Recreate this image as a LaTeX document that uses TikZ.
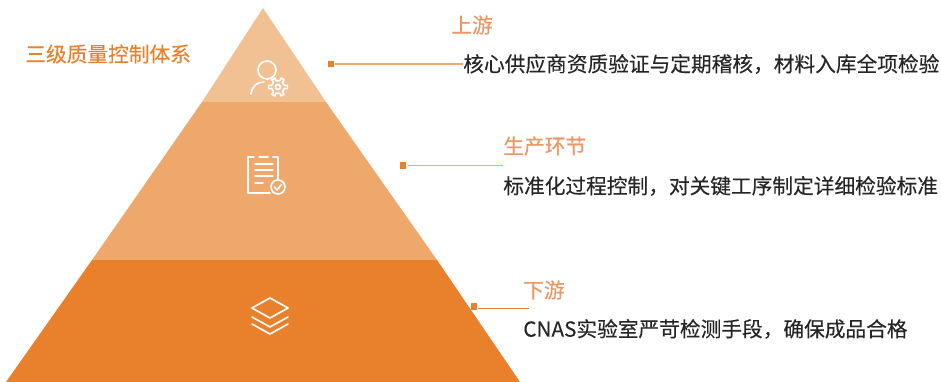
\documentclass[tikz,border=0pt]{standalone}
\usepackage{fontspec}
\setmainfont{Noto Sans CJK SC}
\newfontfamily\bodyfont[FakeBold=0.25]{Noto Sans CJK SC}
\newfontfamily\headfont[FakeBold=0.15]{Noto Sans CJK SC}
\usepackage{tikz}
\usetikzlibrary{positioning}
\definecolor{layerA}{HTML}{F2C193}
\definecolor{layerB}{HTML}{EEA86C}
\definecolor{layerC}{HTML}{E9802C}
\definecolor{headC}{HTML}{EC9565}
\definecolor{bodyC}{HTML}{262626}
\definecolor{leaderC}{HTML}{F2A873}
\tikzset{
  headtext/.style={inner sep=0pt, anchor=west, text=headC, font=\headfont\fontsize{11.78pt}{14pt}\selectfont},
  bodytext/.style={inner sep=0pt, anchor=west, text=bodyC, font=\bodyfont\fontsize{11.78pt}{14pt}\selectfont},
  marker/.style={fill=layerC, minimum size=3.9pt, inner sep=0pt},
  leader/.style={draw=leaderC, line width=.7pt},
  icon/.style={draw=white, line width=.95pt, line cap=round, line join=round}
}
\begin{document}
\begin{tikzpicture}[x=.02cm, y=-.02cm]
\useasboundingbox (0,0) rectangle (941,382);
% pyramid
\fill[layerA](263,8)--(326,102)--(202,102)--cycle;
\fill[layerB](202,102)--(326,102)--(437,260)--(92,260)--cycle;
\fill[layerC](92,260)--(437,260)--(520,382)--(6,382)--cycle;
\node[headtext, text=layerC] (title) at (25,54) {三级质量控制体系};
% top
\node[headtext] (headA) at (451,25) {上游};
\node[bodytext] (bodyA) at (463,64) {核心供应商资质验证与定期稽核，材料入库全项检验};
\node[marker] (dotA) at (331,64) {};
\draw[leader](dotA)--(bodyA.west);
% middle
\node[headtext] (headB) at (503,146) {生产环节};
\node[bodytext] (bodyB) at (503,186) {标准化过程控制，对关键工序制定详细检验标准};
\node[marker] (dotB) at (403,165.5) {};
\coordinate (startB) at (408,165.5);
\coordinate (endB) at (503,165.5);
\draw[leader](startB)--(endB);
% bottom
\node[headtext] (headC) at (523,290) {下游};
\node[bodytext] (bodyC) at (523,329) {CNAS实验室严苛检测手段，确保成品合格};
\node[marker] (dotC) at (474,306.5) {};
\coordinate (startC) at (478,308.5);
\coordinate (endC) at (529,308.5);
\draw[leader, draw=layerC](startC)--(endC);
% person icon
\draw[icon](267,70) circle (9);
\draw[icon](251,94) .. controls (252,86) and (257,82) .. (264,82);
\foreach \a in {0,60,...,300}
  \draw[icon](278,87)+(\a-14:6.5)--+(\a-10:9.5)--+(\a+10:9.5)--+(\a+14:6.5)--+(\a+46:6.5);
\draw[icon](278,87) circle (2.5);
% document icon
\draw[icon](254,157)--(248,157)--(248,193)--(270,193);
\draw[icon](259,157)--(268,157);
\draw[icon](273,157)--(278,157)--(278,179);
\draw[icon](255,164)--(273,164);
\draw[icon](255,170)--(273,170);
\draw[icon](255,176)--(273,176);
\draw[icon](255,183)--(263,183);
\draw[icon](278,187) circle (7);
\draw[icon](274.5,187)--(277,190)--(281.5,184.5);
% layers icon
\draw[icon](270,298)--(288,308)--(270,318)--(252,308)--cycle;
\draw[icon](252,317)--(270,327)--(288,317);
\draw[icon](252,324)--(270,334)--(288,324);
\end{tikzpicture}
\end{document}
